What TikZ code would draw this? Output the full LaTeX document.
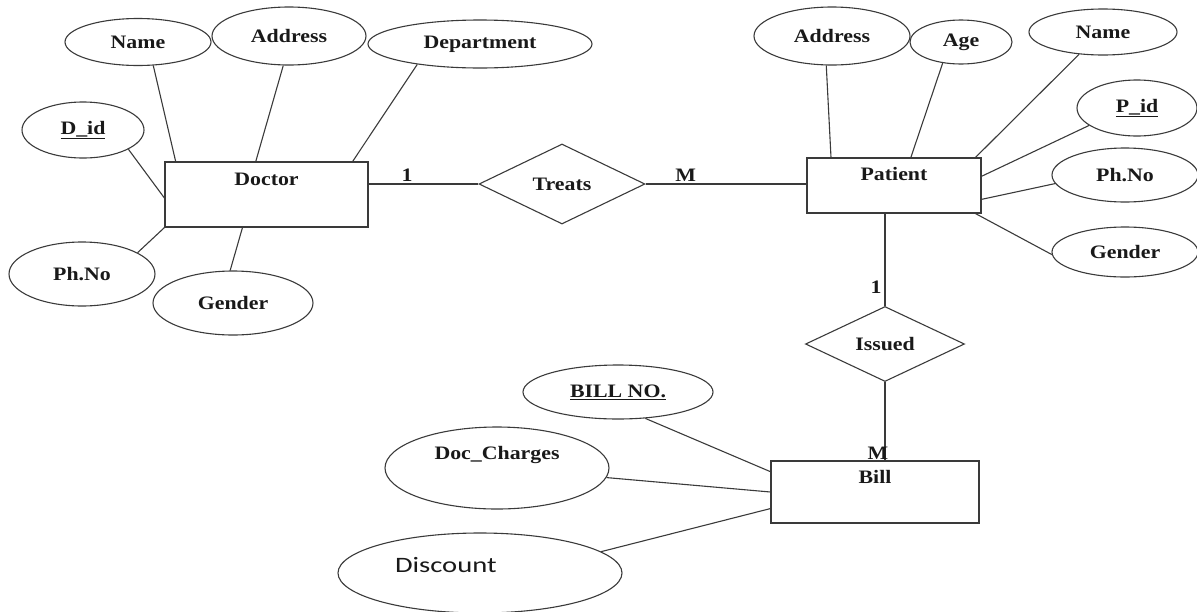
\documentclass[tikz,border=0pt]{standalone}
\usepackage{fontspec}
\setmainfont{Liberation Serif}[FakeStretch=1.15]
\newfontfamily\discfont{Carlito}[FakeStretch=1.3]
\usetikzlibrary{shapes.geometric}
\definecolor{lineGray}{RGB}{58,58,58}
\definecolor{inkBlack}{RGB}{25,25,25}

\begin{document}
\begin{tikzpicture}
    [
        x=1pt, y=-1pt,
        line width=1.1pt, color=lineGray, text=inkBlack,
        font=\fontsize{19}{22}\selectfont\bfseries,
        attr/.style 2 args={
            draw, ellipse, inner sep=0pt, minimum width=#1, minimum height=#2
        },
        entity/.style={
            draw, rectangle, inner sep=0pt
        },
        rel/.style 2 args={
            draw, diamond, inner sep=0pt, minimum width=#1, minimum height=#2
        },
        card/.style={inner sep=2pt}
    ]
\useasboundingbox (0,0) rectangle (1197,611);

% Doctor
\node (doctor) [entity, minimum width=203pt, text height=23pt, text depth=42pt] at (266.5,194.5) {Doctor};
\node (dname) [attr={146pt}{47pt}] at (138,42) {Name};
\node (daddr) [attr={154pt}{58pt}] at (289,36) {Address};
\node (ddept) [attr={224pt}{48pt}] at (480,44) {Department};
\node (did) [attr={122pt}{56pt}] at (83,130) {\underline{D\_id}};
\node (dphone) [attr={146pt}{64pt}] at (82,274) {Ph.No};
\node (dgender) [attr={160pt}{64pt}] at (233,303) {Gender};

% Patient
\node (treats) [rel={166pt}{80pt}] at (562,184) {Treats};
\node (patient) [entity, minimum width=174pt, text height=22pt, text depth=33pt] at (894,185.5) {Patient};
\node (paddr) [attr={156pt}{58pt}] at (832,36) {Address};
\node (page) [attr={102pt}{44pt}] at (961,42) {Age};
\node (pname) [attr={148pt}{46pt}] at (1103,32) {Name};
\node (pid) [attr={120pt}{56pt}] at (1137,108) {\underline{P\_id}};
\node (pphone) [attr={146pt}{54pt}] at (1125,175) {Ph.No};
\node (pgender) [attr={146pt}{50pt}] at (1125,252) {Gender};

% Bill
\node (issued) [rel={159pt}{75pt}] at (885,344) {Issued};
\node (bill) [entity, minimum width=208pt, text height=22pt, text depth=40pt] at (875,492) {Bill};
\node (billno) [attr={190pt}{54pt}] at (618,392) {\underline{BILL NO.}};
\node (charges) [attr={224pt}{82pt}, text height=13pt, text depth=30pt] at (497,468) {Doc\_Charges};
\node (discount) [attr={284pt}{80pt}, font=\discfont\fontsize{22}{26}\selectfont,
    text width=170pt, align=left, text depth=16pt] at (480,573) {Discount};

% Attributes
\draw (dname.-57) -- (doctor.160);
\draw (daddr.-101) -- (doctor.108);
\draw (ddept.-162) -- (doctor.21.5);
\draw (did.-23) -- (doctor.182);
\draw (dphone.21.6) -- (doctor.south west);
\draw (dgender.95) -- (doctor.-126);

\draw (paddr.-101) -- (patient.156);
\draw (page.-131) -- (patient.59.8);
\draw (pname.-137) -- (patient.19);
\draw (pid.-160) -- (patient.6.2);
\draw (pphone.-173) -- (patient.-9.5);
\draw (pgender.-178) -- (patient.-19);

\draw (billno.-44) -- (bill.169);
\draw (charges.-5) -- (bill.180);
\draw (discount.10) -- (bill.189.3);

% Relationships
\draw (doctor.east |- treats.west) -- node [card, pos=0.35, above] {1} (treats.west);
\draw (treats.east) -- node [card, pos=0.25, above] {M} (treats.east -| patient.west);
\draw (issued.north |- patient.south) -- node [card, pos=0.8, left, inner sep=3pt] {1} (issued.north);
\draw (issued.south) -- node [pos=1, anchor=south, inner sep=0pt, xshift=-7pt] {M} (issued.south |- bill.north);

\end{tikzpicture}
\end{document}
